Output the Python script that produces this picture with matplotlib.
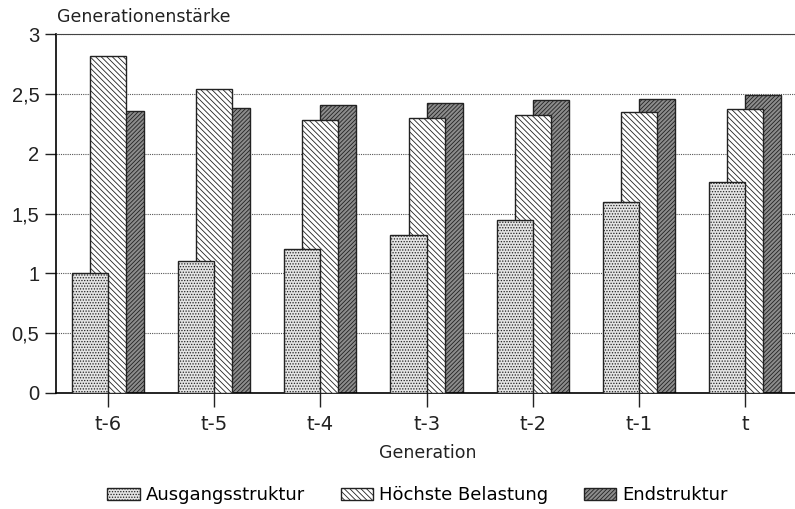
import numpy as np
import matplotlib
matplotlib.use("Agg")
import matplotlib.pyplot as plt
from matplotlib.ticker import FuncFormatter

generations = ["t-6", "t-5", "t-4", "t-3", "t-2", "t-1", "t"]
ausgang = [1.00, 1.10, 1.20, 1.32, 1.45, 1.60, 1.76]
hoechste = [2.82, 2.54, 2.28, 2.30, 2.32, 2.35, 2.37]
endstruktur = [2.36, 2.38, 2.41, 2.42, 2.45, 2.46, 2.49]

plt.rcParams["font.family"] = ["DejaVu Sans"]
plt.rcParams["hatch.linewidth"] = 0.6

fig = plt.figure(figsize=(7.95, 5.09), dpi=100)
ax = fig.add_axes([0.0704, 0.228, 0.935, 0.705])

x = np.arange(len(generations))
w = 0.34
off = 0.17

# drawn back to front: Endstruktur behind, Ausgang in front
ax.bar(x + off, endstruktur, w, facecolor="#8c8c8c", edgecolor="#222222",
       hatch="////////", linewidth=1.0, zorder=2, label="Endstruktur")
ax.bar(x, hoechste, w, facecolor="white", edgecolor="#222222",
       hatch="\\\\\\\\\\\\", linewidth=1.0, zorder=3, label="Höchste Belastung")
ax.bar(x - off, ausgang, w, facecolor="#e4e4e4", edgecolor="#222222",
       hatch="......", linewidth=1.0, zorder=4, label="Ausgangsstruktur")

ax.set_xlim(-0.49, 6.51)
ax.set_ylim(0, 3)
ax.set_yticks([0, 0.5, 1, 1.5, 2, 2.5, 3])
ax.yaxis.set_major_formatter(FuncFormatter(lambda v, p: ("%g" % v).replace(".", ",")))
ax.set_xticks(x)
ax.set_xticklabels(generations)

ax.yaxis.grid(True, linestyle=(0, (1, 1)), color="#555555", linewidth=0.8, zorder=0)
ax.set_axisbelow(True)

ax.spines["right"].set_visible(False)
ax.spines["top"].set_color("#444444")
ax.spines["left"].set_linewidth(1.2)
ax.spines["bottom"].set_linewidth(1.2)

ax.tick_params(axis="y", direction="out", length=8, width=1.0, pad=4, colors="#222222",
               labelsize=14.5, labelfontfamily="Liberation Sans")
ax.tick_params(axis="x", direction="out", length=10, width=1.0, labelsize=14, pad=6, colors="#222222")

ax.set_xlabel("Generation", fontsize=12.5, labelpad=7, color="#222222")
fig.text(0.072, 0.948, "Generationenstärke", fontsize=12.5, color="#222222", va="bottom")

handles, labels = ax.get_legend_handles_labels()
order = [2, 1, 0]
fig.legend([handles[i] for i in order], [labels[i] for i in order],
           loc="center", bbox_to_anchor=(0.525, 0.027), ncol=3, frameon=False,
           fontsize=13, handlelength=1.8, handleheight=0.72, handletextpad=0.3,
           columnspacing=2.0)

fig.savefig("out.png", dpi=100)
